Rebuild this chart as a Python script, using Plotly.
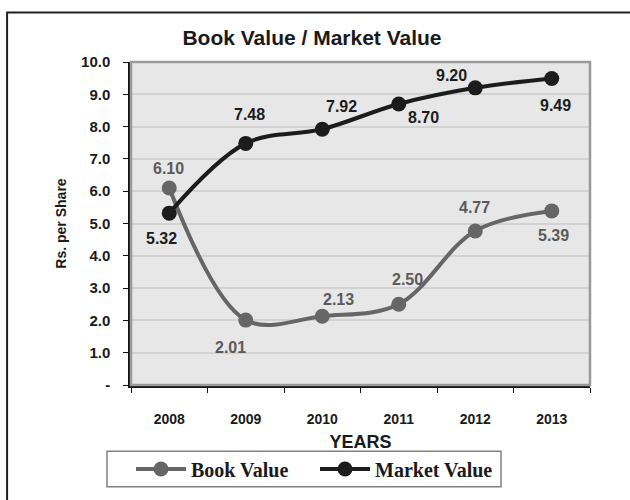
import plotly.graph_objects as go

years = ['2008', '2009', '2010', '2011', '2012', '2013']
book_value = [6.10, 2.01, 2.13, 2.50, 4.77, 5.39]
market_value = [5.32, 7.48, 7.92, 8.70, 9.20, 9.49]
y_ticks = [0, 1, 2, 3, 4, 5, 6, 7, 8, 9, 10]
y_tick_text = ['-', '1.0', '2.0', '3.0', '4.0', '5.0', '6.0', '7.0', '8.0', '9.0', '10.0']

book_color = '#666666'
market_color = '#1c1c1c'
sans = 'Liberation Sans, Arial, sans-serif'
serif = 'Liberation Serif, Times New Roman, serif'

# label offsets in pixels (dx, dy) relative to each marker, dy up
book_shift = [(-1, 19), (-15, -27), (16, 17), (9, 25), (-1, 23), (2, -25)]
market_shift = [(-8, -25), (4, 29), (19, 23), (25, -14), (-24, 12), (4, -27)]

fig = go.Figure()

fig.add_trace(go.Scatter(
    x=years, y=book_value, name='<b>Book Value</b>',
    mode='lines+markers',
    line=dict(color=book_color, width=4, shape='spline', smoothing=1),
    marker=dict(color=book_color, size=15),
))
fig.add_trace(go.Scatter(
    x=years, y=market_value, name='<b>Market Value</b>',
    mode='lines+markers',
    line=dict(color=market_color, width=4, shape='spline', smoothing=1),
    marker=dict(color=market_color, size=15),
))

# value labels; category axes take the serial index for annotations
for vals, shifts, col in [(book_value, book_shift, '#5a5a5a'),
                          (market_value, market_shift, market_color)]:
    for i, (v, (dx, dy)) in enumerate(zip(vals, shifts)):
        fig.add_annotation(
            x=i, y=v, xref='x', yref='y', text='<b>%.2f</b>' % v,
            showarrow=False, xshift=dx, yshift=dy,
            font=dict(family=sans, size=16, color=col),
        )

fig.update_layout(
    width=630, height=500,
    margin=dict(l=131, r=40, t=62, b=110),
    paper_bgcolor='white',
    plot_bgcolor='#e7e7e7',
    title=dict(
        text='<b>Book Value / Market Value</b>',
        x=312 / 630, xref='container', xanchor='center',
        y=1 - 38 / 500, yref='container', yanchor='middle',
        font=dict(family=sans, size=21, color='#1a1a1a'),
    ),
    showlegend=True,
    legend=dict(
        orientation='h',
        x=0.0, xanchor='left', y=-0.26, yanchor='middle',
        borderwidth=0, bgcolor='rgba(0,0,0,0)',
        font=dict(family=serif, size=20, color='#1a1a1a'),
        itemwidth=50, entrywidth=119,
    ),
    shapes=[
        # plot area border (gray)
        dict(type='rect', xref='paper', yref='paper', x0=0, x1=1, y0=0, y1=1,
             line=dict(color='#9a9a9a', width=2.5), layer='above'),
        # outer frame
        dict(type='rect', xref='paper', yref='paper',
             x0=-0.270, x1=1.2, y0=-0.5, y1=1.153,
             line=dict(color='#222222', width=2)),
        # legend box
        dict(type='rect', xref='paper', yref='paper',
             x0=(107 - 131) / 459, x1=(501 - 131) / 459,
             y0=(389 - 492) / 327, y1=(389 - 456) / 327,
             line=dict(color='#808080', width=1.5)),
    ],
)

fig.update_xaxes(
    type='category', range=[-0.5, 5.5],
    showline=True, linecolor='#111111', linewidth=2.5,
    ticks='outside', tickson='boundaries', ticklen=5, tickcolor='#111111',
    ticklabelstandoff=19,
    showgrid=False, zeroline=False,
    tickfont=dict(family=sans, size=14, color='#1a1a1a', weight='bold'),
    title=dict(text='<b>YEARS</b>', standoff=10,
               font=dict(family=sans, size=18, color='#1a1a1a')),
)
fig.update_yaxes(
    range=[0, 10], tickvals=y_ticks, ticktext=y_tick_text,
    showline=True, linecolor='#111111', linewidth=2.5,
    ticks='outside', ticklen=5, tickcolor='#111111',
    ticklabelstandoff=10,
    showgrid=True, gridcolor='#d2d2d2', gridwidth=1.5, zeroline=False,
    tickfont=dict(family=sans, size=15, color='#1a1a1a', weight='bold'),
    title=dict(text='<b>Rs. per Share</b>', standoff=12,
               font=dict(family=sans, size=14, color='#1a1a1a')),
)

fig.write_html('out.html', config={'displayModeBar': False},
               post_script="document.body.style.margin='0';")
